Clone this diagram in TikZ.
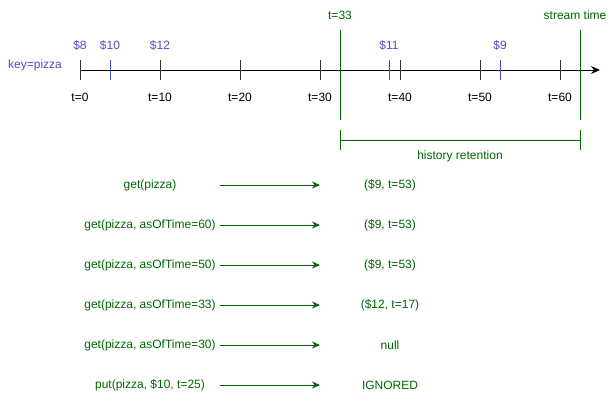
\documentclass[tikz,border=0pt]{standalone}
\usepackage{fontspec}
\setmainfont{Liberation Sans}
\usetikzlibrary{arrows.meta,calc}
\definecolor{dgreen}{HTML}{006600}
\definecolor{dblue}{HTML}{4C4CC8}
\definecolor{tickgray}{HTML}{333333}
\begin{document}
\begin{tikzpicture}[x=1pt,y=-1pt,
  every node/.style={font=\fontsize{12}{14}\selectfont, inner sep=0pt},
  lbl/.style={text=black},
  bl/.style={text=dblue},
  gr/.style={text=dgreen},
  tickmark/.style={draw=tickgray, line width=1pt},
  bluetick/.style={draw=dblue, line width=0.8pt},
  greenline/.style={draw=dgreen, line width=1pt},
  callarrow/.style={draw=dgreen, line width=1pt, -{Stealth[length=8pt,width=7pt]}}]
\useasboundingbox (0,0) rectangle (610,400);

% axis
\coordinate (a0) at (80,70);
\coordinate (aend) at (600,70);
\draw[line width=1pt, -{Stealth[length=9pt,width=8pt]}] (a0) -- (aend);

% blue price ticks
\foreach \n/\x/\p in {p8/80/\$8, p10/110/\$10, p12/160/\$12, p11/389/\$11, p9/500/\$9}{
  \coordinate (c\n) at (\x,70);
  \draw[bluetick] ($(c\n)+(0,-10)$) -- ($(c\n)+(0,10)$);
  \node[bl] (\n) at (\x,45) {\p};
}

% black ticks and labels
\foreach \t in {0,10,20,30,40,50,60}{
  \coordinate (tk\t) at ({80+8*\t},70);
  \node[lbl] (tl\t) at ({80+8*\t},97) {t=\t};
}
\foreach \t in {20,30,40,50,60}{
  \draw[tickmark] ($(tk\t)+(0,-10)$) -- ($(tk\t)+(0,10)$);
}
\foreach \t in {0,10}{
  \draw[tickmark, line width=1.6pt] ($(tk\t)+(0.3,-10)$) -- ($(tk\t)+(0.3,10)$);
}
\node[bl] (key) at (35,65) {key=pizza};

% green lines
\node[gr] (t33) at (340,15) {t=33};
\node[gr] (st) at (575,15) {stream time};
\coordinate (g1t) at (340,30);
\coordinate (g1b) at (340,120);
\coordinate (g2t) at (580,30);
\coordinate (g2b) at (580,120);
\draw[greenline] (g1t) -- (g1b);
\draw[greenline] (g2t) -- (g2b);

% history retention bracket
\coordinate (hl) at (340,140);
\coordinate (hr) at (580,140);
\draw[greenline] (hl) -- (hr);
\draw[greenline] (340,130) -- (340,150);
\draw[greenline] (580,130) -- (580,150);
\node[gr] (hist) at (460,156) {history retention};

% calls
\foreach \i/\y/\l/\r in {
  1/185/{get(pizza)}/{(\$9, t=53)},
  2/225/{get(pizza, asOfTime=60)}/{(\$9, t=53)},
  3/265/{get(pizza, asOfTime=50)}/{(\$9, t=53)},
  4/305/{get(pizza, asOfTime=33)}/{(\$12, t=17)},
  5/345/{get(pizza, asOfTime=30)}/{null},
  6/385/{put(pizza, \$10, t=25)}/{IGNORED}}{
  \node[gr] (q\i) at (150,\y) {\l};
  \node[gr] (r\i) at (390,\y) {\r};
  \coordinate (as\i) at (220,\y);
  \coordinate (ae\i) at (320,\y);
  \draw[callarrow] (as\i) -- (ae\i);
}
\end{tikzpicture}
\end{document}
